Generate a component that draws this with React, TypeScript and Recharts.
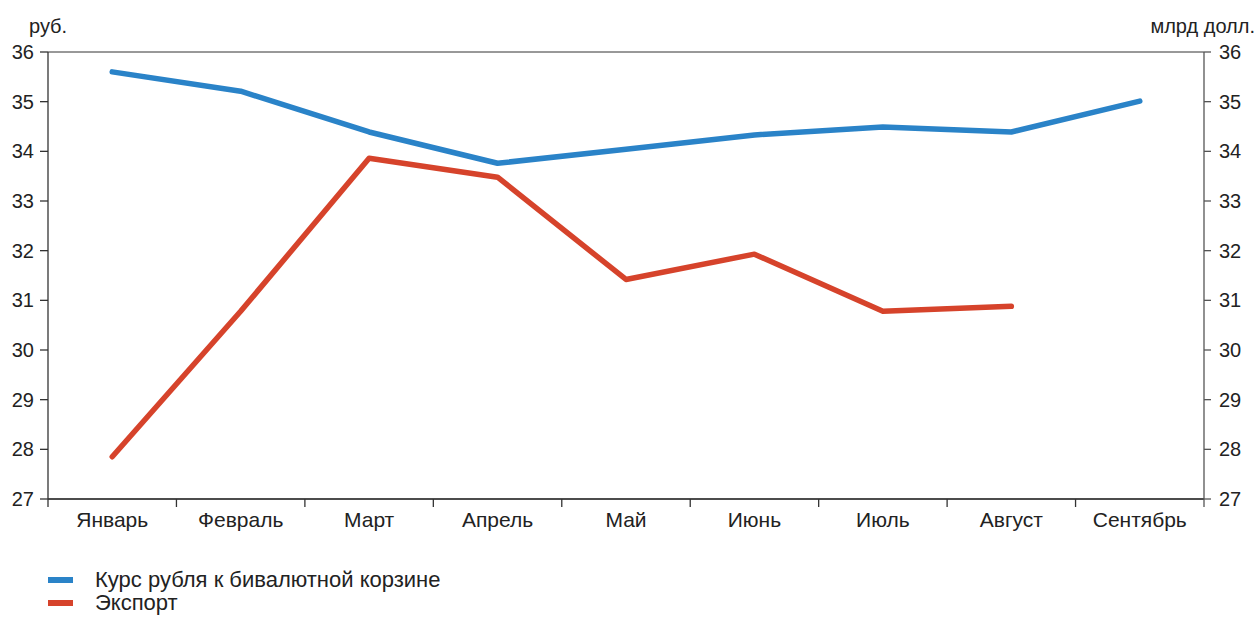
import { LineChart, Line, XAxis, YAxis, CartesianGrid } from 'recharts';

const months = ['Январь', 'Февраль', 'Март', 'Апрель', 'Май', 'Июнь', 'Июль', 'Август', 'Сентябрь'];
const rubleBasket = [35.6, 35.21, 34.39, 33.76, 34.04, 34.33, 34.49, 34.39, 35.01];
const exports = [27.85, 30.78, 33.86, 33.48, 31.42, 31.93, 30.78, 30.88, null];
const yTicks = [27, 28, 29, 30, 31, 32, 33, 34, 35, 36];

const BLUE = '#2a83c8';
const RED = '#d6432b';
const INK = '#222';

const data = months.map((m, i) => ({ month: m, basket: rubleBasket[i], exp: exports[i] }));

const W = 1258;
const H = 617;
const LEFT = 48;
const RIGHT_W = 54;
const BAND = (W - LEFT - RIGHT_W) / months.length;

// month label plus a boundary tick between bands
function MonthTick(props: any) {
  const { x, y, payload, index } = props;
  const half = BAND / 2;
  return (
    <g>
      <line x1={x - half} y1={y} x2={x - half} y2={y + 8} stroke="#333" strokeWidth={1.3} />
      {index === months.length - 1 && (
        <line x1={x + half} y1={y} x2={x + half} y2={y + 8} stroke="#555" strokeWidth={1.3} />
      )}
      <text x={x} y={y + 28} textAnchor="middle" fill={INK} fontSize={21}>
        {payload.value}
      </text>
    </g>
  );
}

function LegendBox() {
  const items = [
    { label: 'Курс рубля к бивалютной корзине', color: BLUE },
    { label: 'Экспорт', color: RED },
  ];
  return (
    <div style={{ position: 'absolute', left: 48, top: 568 }}>
      {items.map((it) => (
        <div key={it.label} style={{ display: 'flex', alignItems: 'center', height: 23 }}>
          <span style={{ width: 25, height: 6, background: it.color, display: 'inline-block' }} />
          <span style={{ marginLeft: 22, fontSize: 22, lineHeight: '23px', color: INK }}>{it.label}</span>
        </div>
      ))}
    </div>
  );
}

export default function App() {
  return (
    <div
      style={{
        position: 'absolute',
        left: 0,
        top: 0,
        width: W,
        height: H,
        background: '#fff',
        fontFamily: '"Liberation Sans", Arial, sans-serif',
        overflow: 'hidden',
      }}
    >
      <span style={{ position: 'absolute', left: 29, top: 15, fontSize: 20, color: INK }}>руб.</span>
      <span style={{ position: 'absolute', right: 3, top: 15, fontSize: 20, color: INK }}>млрд долл.</span>
      <LineChart width={W} height={H} data={data} margin={{ top: 52, right: 0, bottom: 78, left: 0 }}>
        <CartesianGrid vertical={false} stroke="#333" strokeWidth={1} />
        <XAxis
          dataKey="month"
          tick={MonthTick}
          tickLine={false}
          tickSize={0}
          tickMargin={0}
          axisLine={{ stroke: '#333', strokeWidth: 1.3 }}
          interval={0}
          height={40}
          padding={{ left: BAND / 2, right: BAND / 2 }}
        />
        <YAxis
          yAxisId="left"
          domain={[27, 36]}
          ticks={yTicks}
          width={LEFT}
          tickSize={8}
          tickMargin={6}
          tick={{ fill: INK, fontSize: 20 }}
          tickLine={{ stroke: '#333', strokeWidth: 1.3 }}
          axisLine={{ stroke: '#333', strokeWidth: 1.3 }}
          interval={0}
        />
        <YAxis
          yAxisId="right"
          orientation="right"
          domain={[27, 36]}
          ticks={yTicks}
          width={RIGHT_W}
          tickSize={7}
          tickMargin={8}
          tick={{ fill: INK, fontSize: 20, textAnchor: 'start' }}
          tickLine={{ stroke: '#555', strokeWidth: 1.3 }}
          axisLine={{ stroke: '#555', strokeWidth: 1.3 }}
          interval={0}
        />
        <Line
          yAxisId="left"
          dataKey="basket"
          stroke={BLUE}
          strokeWidth={5.5}
          strokeLinecap="round"
          strokeLinejoin="round"
          dot={false}
          activeDot={false}
          isAnimationActive={false}
        />
        <Line
          yAxisId="right"
          dataKey="exp"
          stroke={RED}
          strokeWidth={5.5}
          strokeLinecap="round"
          strokeLinejoin="round"
          dot={false}
          activeDot={false}
          isAnimationActive={false}
        />
      </LineChart>
      <LegendBox />
    </div>
  );
}
